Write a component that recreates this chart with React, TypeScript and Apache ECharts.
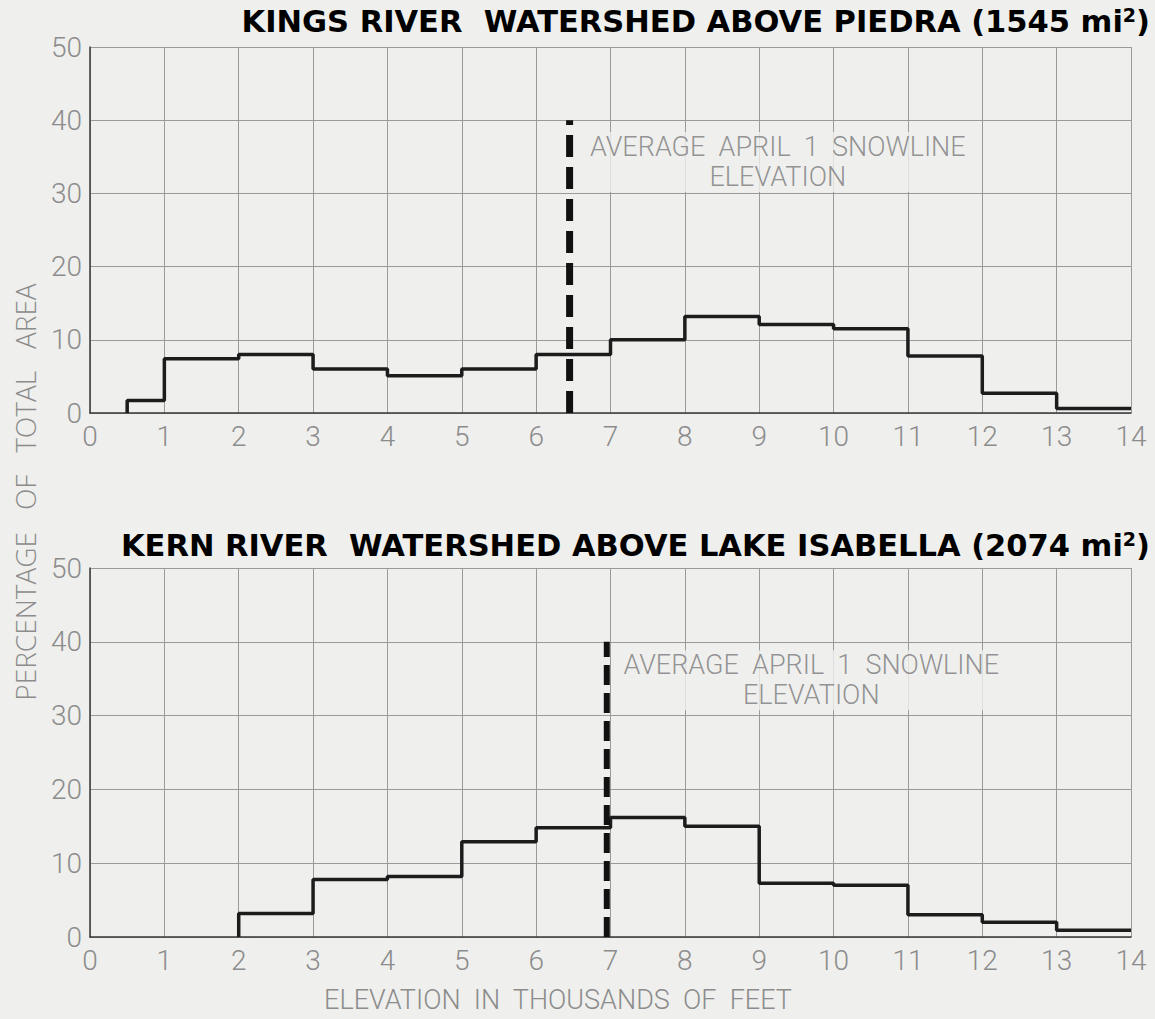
import React, { useEffect, useRef } from "react";
import * as echarts from "echarts";

// Elevation band edges (thousands of feet) and percent of total area per band
const kingsEdges = [0.5, 1, 2, 3, 4, 5, 6, 7, 8, 9, 10, 11, 12, 13, 14];
const kingsValues = [1.7, 7.4, 8.0, 6.0, 5.1, 6.0, 8.0, 10.0, 13.2, 12.1, 11.5, 7.8, 2.7, 0.6];
const kernEdges = [2, 3, 4, 5, 6, 7, 8, 9, 10, 11, 12, 13, 14];
const kernValues = [3.2, 7.8, 8.2, 12.9, 14.8, 16.2, 15.0, 7.3, 7.0, 3.0, 2.0, 0.9];
const kingsSnowline = 6.45;
const kernSnowline = 6.95;
const snowlineTop = 40;
const xTicks = [0, 14, 1];
const yTicks = [0, 50, 10];

const kingsTitle = "KINGS RIVER  WATERSHED ABOVE PIEDRA (1545 mi";
const kernTitle = "KERN RIVER  WATERSHED ABOVE LAKE ISABELLA (2074 mi";
const snowText = "AVERAGE  APRIL  1  SNOWLINE\nELEVATION";
const yName = "PERCENTAGE   OF   TOTAL   AREA";
const xName = "ELEVATION  IN  THOUSANDS  OF  FEET";

function stepPoints(edges: number[], values: number[]) {
  const pts: number[][] = [[edges[0], 0]];
  for (let i = 0; i < values.length; i++) {
    pts.push([edges[i], values[i]]);
    pts.push([edges[i + 1], values[i]]);
  }
  return pts;
}

const LABEL_FONT = "Roboto";
const LABEL_COLOR = "#8c8c8c";
const GRID_COLOR = "#9a9a9a";
const BG = "#efefed";

export default function App() {
  const ref = useRef<HTMLDivElement>(null);
  useEffect(() => {
    document.body.style.margin = "0";
    const chart = echarts.init(ref.current!, null, { renderer: "svg" });
    const xAxisBase = (gridIndex: number) => ({
      type: "value" as const,
      gridIndex,
      min: xTicks[0],
      max: xTicks[1],
      interval: xTicks[2],
      axisLine: { show: true, lineStyle: { color: "#3a3a3a", width: 1.5 } },
      axisTick: { show: false },
      axisLabel: {
        color: LABEL_COLOR,
        fontSize: 28,
        fontFamily: LABEL_FONT,
        fontWeight: 300,
        margin: 9,
      },
      splitLine: { show: true, lineStyle: { color: GRID_COLOR, width: 1 } },
    });
    const yAxisBase = (gridIndex: number) => ({
      type: "value" as const,
      gridIndex,
      min: yTicks[0],
      max: yTicks[1],
      interval: yTicks[2],
      axisLine: { show: true, lineStyle: { color: "#3a3a3a", width: 1.5 } },
      axisTick: { show: false },
      axisLabel: {
        color: LABEL_COLOR,
        fontSize: 28,
        fontFamily: LABEL_FONT,
        fontWeight: 300,
        margin: 8,
      },
      splitLine: { show: true, lineStyle: { color: GRID_COLOR, width: 1 } },
    });
    const stepSeries = (idx: number, data: number[][]) => ({
      type: "line" as const,
      xAxisIndex: idx,
      yAxisIndex: idx,
      data,
      showSymbol: false,
      symbol: "none",
      lineStyle: { color: "#1c1c1c", width: 3.5 },
      z: 3,
    });
    const snowSeries = (idx: number, x: number, width: number, dash: number[]) => ({
      type: "line" as const,
      xAxisIndex: idx,
      yAxisIndex: idx,
      data: [
        [x, 0],
        [x, snowlineTop],
      ],
      showSymbol: false,
      symbol: "none",
      lineStyle: { color: "#111", width, type: dash },
      z: 4,
    });
    const annot = (idx: number, x: number, y: number) => ({
      type: "scatter" as const,
      xAxisIndex: idx,
      yAxisIndex: idx,
      data: [[x, y]],
      symbolSize: 0,
      silent: true,
      label: {
        show: true,
        position: "inside",
        formatter: snowText,
        color: "#7a7a7a",
        fontSize: 27,
        fontFamily: LABEL_FONT,
        fontWeight: 300,
        lineHeight: 30,
        align: "center",
        backgroundColor: BG,
      },
    });
    const titleRich = {
      t: { fontSize: 30.5, fontWeight: "bold", fontFamily: "DejaVu Sans", color: "#141414" },
      s: {
        fontSize: 19,
        fontWeight: "bold",
        fontFamily: "DejaVu Sans",
        color: "#141414",
        verticalAlign: "top",
        padding: [0, 0, 14, 0],
      },
    };
    chart.setOption({
      animation: false,
      backgroundColor: BG,
      grid: [
        { left: 90, right: 24, top: 47, height: 366 },
        { left: 90, right: 24, top: 568, height: 369 },
      ],
      xAxis: [xAxisBase(0), xAxisBase(1)],
      yAxis: [yAxisBase(0), yAxisBase(1)],
      series: [
        stepSeries(0, stepPoints(kingsEdges, kingsValues)),
        stepSeries(1, stepPoints(kernEdges, kernValues)),
        snowSeries(0, kingsSnowline, 7, [22, 10]),
        snowSeries(1, kernSnowline, 6, [20, 8]),
        annot(0, 9.25, 34.3),
        annot(1, 9.7, 34.8),
      ],
      graphic: [
        {
          type: "text",
          right: 5,
          top: 5,
          style: {
            text: "{t|" + kingsTitle + "}{s|2}{t|)}",
            rich: titleRich,
          },
        },
        {
          type: "text",
          right: 5,
          top: 529,
          style: {
            text: "{t|" + kernTitle + "}{s|2}{t|)}",
            rich: titleRich,
          },
        },
        {
          type: "text",
          x: 25,
          y: 492,
          rotation: Math.PI / 2,
          style: {
            text: yName,
            fill: LABEL_COLOR,
            fontSize: 28,
            fontFamily: "Open Sans",
            fontWeight: 300,
            align: "center",
            verticalAlign: "middle",
          },
        },
        {
          type: "text",
          x: 558,
          y: 1000,
          style: {
            text: xName,
            fill: LABEL_COLOR,
            fontSize: 27,
            fontFamily: LABEL_FONT,
            fontWeight: 300,
            align: "center",
            verticalAlign: "middle",
          },
        },
      ],
    });
    return () => chart.dispose();
  }, []);
  return <div ref={ref} style={{ width: 1155, height: 1019 }} />;
}
